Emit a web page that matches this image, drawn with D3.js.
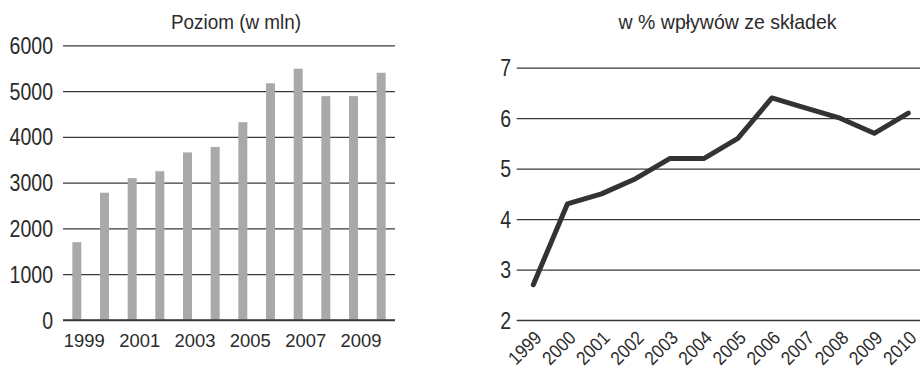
<!DOCTYPE html>
<html>
<head>
<meta charset="utf-8">
<script src="https://cdn.jsdelivr.net/npm/d3@7"></script>
<style>
  html, body { margin: 0; padding: 0; background: #fff; }
  svg { display: block; }
  text { font-family: "Liberation Sans", Arial, Helvetica, sans-serif; fill: #2b2b2b; }
</style>
</head>
<body>
<svg id="chart" width="920" height="368"></svg>
<script>
// Level of expenditure (millions), yearly bars
const barYears = ["1999","2000","2001","2002","2003","2004","2005","2006","2007","2008","2009","2010"];
const barValues = [1700, 2780, 3100, 3250, 3660, 3780, 4320, 5170, 5490, 4890, 4890, 5400];
const barTicks = [0, 1000, 2000, 3000, 4000, 5000, 6000];
const barLabelYears = ["1999","2001","2003","2005","2007","2009"];
const barTitle = "Poziom (w mln)";

// Share of contribution income (%), yearly line
const lineYears = ["1999","2000","2001","2002","2003","2004","2005","2006","2007","2008","2009","2010"];
const lineValues = [2.7, 4.3, 4.5, 4.8, 5.2, 5.2, 5.6, 6.4, 6.2, 6.0, 5.7, 6.1];
const lineTicks = [2, 3, 4, 5, 6, 7];
const lineTitle = "w % wpływów ze składek";

const svg = d3.select("#chart");
const gridColor = "#3a3a3a";

// ---------- left panel: bars ----------
const L = { x0: 63, x1: 395, y0: 320, y1: 45.3 };
const xb = d3.scaleBand().domain(barYears).range([L.x0, L.x1])
  .paddingInner(0.675).paddingOuter(0.3375);
const yb = d3.scaleLinear().domain([0, 6000]).range([L.y0, L.y1]);

const yAxisL = svg.append("g")
  .attr("transform", `translate(${L.x0},0)`)
  .call(d3.axisLeft(yb).tickValues(barTicks).tickSize(-(L.x1 - L.x0)).tickFormat(d3.format("d")));
yAxisL.select(".domain").remove();
yAxisL.selectAll(".tick line").attr("stroke", gridColor).attr("stroke-width", 1.3);
yAxisL.selectAll(".tick text")
  .attr("font-size", 23).attr("font-family", null)
  .attr("x", -10 / 0.85).attr("dy", "0.35em")
  .attr("transform", "scale(0.85,1)");

svg.append("g").selectAll("rect")
  .data(barYears.map((y, i) => ({ year: y, value: barValues[i] })))
  .join("rect")
  .attr("x", d => xb(d.year))
  .attr("width", xb.bandwidth())
  .attr("y", d => yb(d.value))
  .attr("height", d => yb(0) - yb(d.value))
  .attr("fill", "#a8a9ab");

// redraw the zero baseline over the bars
svg.append("line")
  .attr("x1", L.x0).attr("x2", L.x1)
  .attr("y1", yb(0)).attr("y2", yb(0))
  .attr("stroke", gridColor).attr("stroke-width", 1.3);

const xAxisL = svg.append("g")
  .attr("transform", `translate(0,${L.y0})`)
  .call(d3.axisBottom(xb).tickValues(barLabelYears).tickSize(0));
xAxisL.select(".domain").remove();
xAxisL.selectAll(".tick text")
  .attr("font-size", 19).attr("font-family", null)
  .attr("y", null).attr("dy", null).attr("x", 0)
  .attr("transform", "translate(7.5,26.7) scale(0.97,1)");

svg.append("text")
  .attr("text-anchor", "middle")
  .attr("font-size", 21)
  .attr("transform", "translate(236,29) scale(0.9,1)")
  .text(barTitle);

// ---------- right panel: line ----------
const R = { x0: 516.7, x1: 920, y0: 320, y1: 67.7 };
const xl = d3.scalePoint().domain(lineYears).range([533.3, 908.3]);
const yl = d3.scaleLinear().domain([2, 7]).range([R.y0, R.y1]);

const yAxisR = svg.append("g")
  .attr("transform", `translate(${R.x0},0)`)
  .call(d3.axisLeft(yl).tickValues(lineTicks).tickSize(-(R.x1 - R.x0)).tickFormat(d3.format("d")));
yAxisR.select(".domain").remove();
yAxisR.selectAll(".tick line").attr("stroke", gridColor).attr("stroke-width", 1.3);
yAxisR.selectAll(".tick text")
  .attr("font-size", 23).attr("font-family", null)
  .attr("x", -5.5 / 0.85).attr("dy", "0.35em")
  .attr("transform", "scale(0.85,1)");

const xAxisR = svg.append("g")
  .attr("transform", `translate(0,${R.y0})`)
  .call(d3.axisBottom(xl).tickSize(0));
xAxisR.select(".domain").remove();
xAxisR.selectAll(".tick text")
  .attr("font-size", 19).attr("font-family", null)
  .attr("text-anchor", "end")
  .attr("x", 0).attr("y", 0).attr("dy", null)
  .attr("transform", "translate(9,19) rotate(-45) scale(0.9,1)");

const line = d3.line()
  .x((d, i) => xl(lineYears[i]))
  .y(d => yl(d));

svg.append("path")
  .datum(lineValues)
  .attr("d", line)
  .attr("fill", "none")
  .attr("stroke", "#333333")
  .attr("stroke-width", 5)
  .attr("stroke-linejoin", "round")
  .attr("stroke-linecap", "round");

svg.append("text")
  .attr("text-anchor", "middle")
  .attr("font-size", 21)
  .attr("transform", "translate(727.5,29) scale(0.93,1)")
  .text(lineTitle);
</script>
</body>
</html>
